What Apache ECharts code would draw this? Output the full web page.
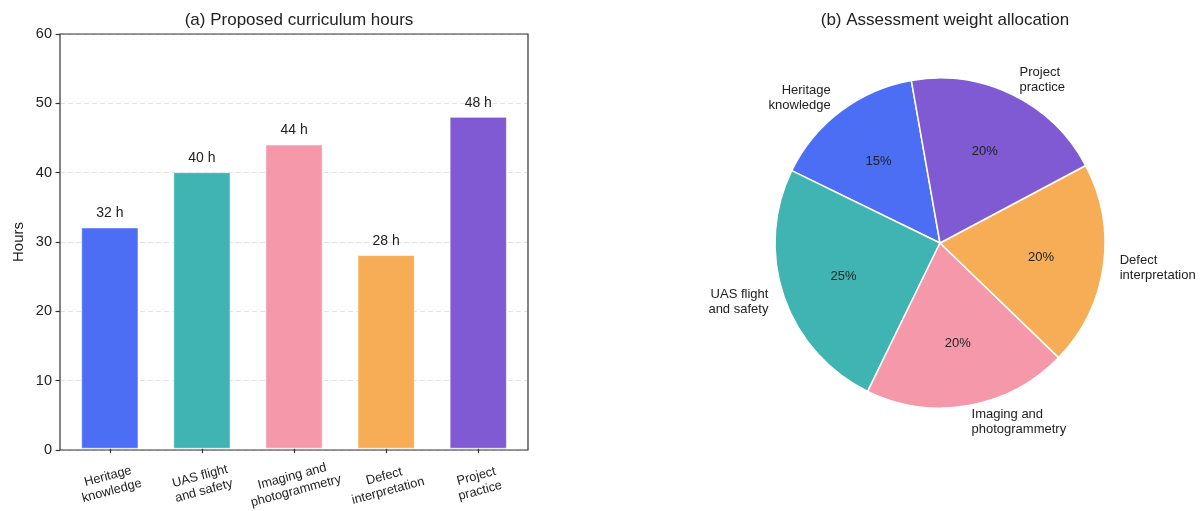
<!DOCTYPE html>
<html>
<head>
<meta charset="utf-8">
<script src="https://cdn.jsdelivr.net/npm/echarts@6/dist/echarts.min.js"></script>
<style>
html,body{margin:0;padding:0;background:#fff;}
#c{width:1203px;height:511px;}
</style>
</head>
<body>
<div id="c"></div>
<script>
// ---- data ----
const barCategories = ['Heritage\nknowledge', 'UAS flight\nand safety', 'Imaging and\nphotogrammetry', 'Defect\ninterpretation', 'Project\npractice'];
const barHours = [32, 40, 44, 28, 48];
const yTicks = [0, 10, 20, 30, 40, 50, 60];
const pieNames = ['Heritage\nknowledge', 'UAS flight\nand safety', 'Imaging and\nphotogrammetry', 'Defect\ninterpretation', 'Project\npractice'];
const pieWeights = [15, 25, 20, 20, 20];
const colors = ['#4C6EF5', '#40B3B3', '#F498AA', '#F6AD56', '#7F5AD3'];

const FONT = '"Liberation Sans", Arial, sans-serif';
const chart = echarts.init(document.getElementById('c'), null, {renderer: 'canvas'});

const pieData = pieNames.map((n, i) => ({name: n, value: pieWeights[i], itemStyle: {color: colors[i]}}));
const R = 165;

chart.setOption({
  animation: false,
  textStyle: {fontFamily: FONT},
  title: [
    {text: '(a) Proposed curriculum hours', left: 294, top: 7, textAlign: 'center',
     textStyle: {fontFamily: FONT, fontSize: 17, fontWeight: 'normal', color: '#222'}},
    {text: '(b) Assessment weight allocation', left: 940, top: 7, textAlign: 'center',
     textStyle: {fontFamily: FONT, fontSize: 17, fontWeight: 'normal', color: '#222'}}
  ],
  grid: [
    {left: 60, top: 34, width: 468, height: 416, show: true, z: 5, borderColor: '#333', borderWidth: 1.2, backgroundColor: 'transparent', containLabel: false},
    {left: 63.8, top: 34, width: 460.5, height: 416, show: false, containLabel: false}
  ],
  xAxis: [
    {type: 'value', gridIndex: 0, min: 0, max: 1, show: false},
    {type: 'category', gridIndex: 1, data: barCategories,
     axisLine: {show: false},
     axisTick: {show: true, alignWithLabel: true, length: 4.5, lineStyle: {color: '#333', width: 1.2}},
     axisLabel: {rotate: 15, align: 'center', verticalAlign: 'middle', margin: 35,
                 fontFamily: FONT, fontSize: 12.8, color: '#222', lineHeight: 15, interval: 0}}
  ],
  yAxis: [
    {type: 'value', gridIndex: 0, min: yTicks[0], max: yTicks[yTicks.length - 1], interval: 10,
     name: 'Hours', nameLocation: 'middle', nameGap: 34, nameRotate: 90,
     nameTextStyle: {fontFamily: FONT, fontSize: 15, color: '#222'},
     axisLine: {show: false},
     axisTick: {show: true, length: 4.5, lineStyle: {color: '#333', width: 1.2}},
     axisLabel: {fontFamily: FONT, fontSize: 14.5, color: '#222', margin: 8},
     splitLine: {show: true, lineStyle: {color: '#e3e3e3', type: [5, 3], width: 1}}},
    {type: 'value', gridIndex: 1, min: 0, max: 60, show: false, splitLine: {show: false}}
  ],
  series: [
    {type: 'bar', xAxisIndex: 1, yAxisIndex: 1, barWidth: '62%',
     data: barHours.map((v, i) => ({value: v, itemStyle: {color: colors[i]}})),
     itemStyle: {borderColor: 'rgba(255,255,255,0.7)', borderWidth: 0.8},
     label: {show: true, position: 'top', distance: 7, formatter: p => p.value + ' h',
             fontFamily: FONT, fontSize: 14, color: '#222'}},
    {type: 'pie', left: 0, top: 0, width: 1400, height: 511, center: [940, 243], radius: R,
     startAngle: 100, clockwise: false, avoidLabelOverlap: false, silent: true,
     data: pieData,
     itemStyle: {borderColor: '#fff', borderWidth: 1.5},
     label: {show: true, position: 'outside', fontFamily: FONT, fontSize: 13, color: '#222',
             lineHeight: 15, distanceToLabelLine: 0, overflow: 'none'},
     labelLine: {show: false, length: R * 0.1, length2: 0}},
    {type: 'pie', left: 0, top: 0, width: 1400, height: 511, center: [940, 243], radius: [R * 0.2, R],
     startAngle: 100, clockwise: false, avoidLabelOverlap: false, silent: true,
     data: pieData.map(d => ({name: d.name, value: d.value, itemStyle: {color: 'rgba(0,0,0,0)'}})),
     itemStyle: {borderWidth: 0},
     label: {show: true, position: 'inside', formatter: p => p.value + '%',
             fontFamily: FONT, fontSize: 13, color: '#222'},
     labelLine: {show: false}}
  ]
});
</script>
</body>
</html>
